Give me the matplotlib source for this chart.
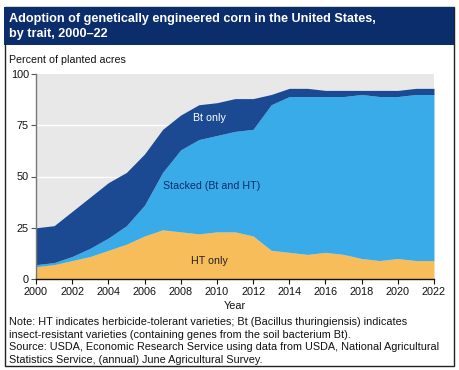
import matplotlib
matplotlib.use("Agg")
import matplotlib.pyplot as plt
from matplotlib.patches import Rectangle
import numpy as np

years = list(range(2000, 2023))
ht_only = [6, 7, 9, 11, 14, 17, 21, 24, 23, 22, 23, 23, 21, 14, 13, 12, 13, 12, 10, 9, 10, 9, 9]
stacked = [1, 1, 2, 4, 6, 9, 15, 28, 40, 46, 47, 49, 52, 71, 76, 77, 76, 77, 80, 80, 79, 81, 81]
bt_only = [18, 18, 22, 25, 27, 26, 25, 21, 17, 17, 16, 16, 15, 5, 4, 4, 3, 3, 2, 3, 3, 3, 3]
xticks = list(range(2000, 2023, 2))
yticks = [0, 25, 50, 75, 100]

C_NAVY = "#0c2d6b"
C_BT = "#1b4a92"
C_STACK = "#3aabe9"
C_HT = "#f7bd5a"
C_BG = "#e8e8e8"

W, H = 459, 370
fig = plt.figure(figsize=(W / 100, H / 100), dpi=100)
plt.rcParams['font.family'] = ['Liberation Sans', 'DejaVu Sans']

def fx(px):
    return px / W

def fy(py):
    return 1 - py / H

# outer border and title band
fig.patches.append(Rectangle((fx(4.5), fy(366)), fx(449), (366 - 7) / H, transform=fig.transFigure,
                             fill=False, edgecolor="#222222", linewidth=1.0))
fig.patches.append(Rectangle((fx(4), fy(45)), fx(450), 38 / H, transform=fig.transFigure,
                             facecolor=C_NAVY, edgecolor=C_NAVY, linewidth=0))
fig.text(fx(9), fy(26.5), "Adoption of genetically engineered corn in the United States,\nby trait, 2000\u201322",
         color="white", fontsize=9.1, fontweight="bold", va="center", ha="left", linespacing=1.25)
fig.text(fx(9), fy(60), "Percent of planted acres", fontsize=7.7, va="center", ha="left", color="#111111")

ax = fig.add_axes([fx(36), fy(279), fx(398), 205 / H])
ax.set_facecolor(C_BG)
x = np.array(years)
h = np.array(ht_only)
s = np.array(stacked)
b = np.array(bt_only)
ax.fill_between(x, 0, h, color=C_HT, linewidth=0, zorder=2)
ax.fill_between(x, h, h + s, color=C_STACK, linewidth=0, zorder=2)
ax.fill_between(x, h + s, h + s + b, color=C_BT, linewidth=0, zorder=2)
for yv in [25, 50, 75]:
    ax.axhline(yv, color="white", linewidth=1.0, zorder=1)

ax.set_xlim(2000, 2022)
ax.set_ylim(0, 100)
ax.set_xticks(xticks)
ax.set_yticks(yticks)
ax.tick_params(axis="both", labelsize=7.8, colors="#111111", length=3.5, width=0.8, pad=2)
ax.tick_params(axis="y", color="#555555", pad=1.5)
for sp in ["top", "right"]:
    ax.spines[sp].set_visible(False)
ax.spines["left"].set_color("#777777")
ax.spines["left"].set_linewidth(1.0)
ax.spines["bottom"].set_color("#111111")
ax.spines["bottom"].set_linewidth(1.0)
ax.set_xlabel("Year", fontsize=7.8, labelpad=3, color="#111111")

ax.text(2009.6, 78.5, "Bt only", color="white", fontsize=7.7, ha="center", va="center", zorder=3)
ax.text(2009.7, 45.4, "Stacked (Bt and HT)", color=C_NAVY, fontsize=7.7, ha="center", va="center", zorder=3)
ax.text(2009.6, 8.8, "HT only", color="#222222", fontsize=7.7, ha="center", va="center", zorder=3)

note = ("Note: HT indicates herbicide-tolerant varieties; Bt (Bacillus thuringiensis) indicates\n"
        "insect-resistant varieties (containing genes from the soil bacterium Bt).\n"
        "Source: USDA, Economic Research Service using data from USDA, National Agricultural\n"
        "Statistics Service, (annual) June Agricultural Survey.")
fig.text(fx(9), fy(317), note, fontsize=7.8, va="top", ha="left", color="#111111", linespacing=1.33)

fig.savefig("out.png", dpi=100)
